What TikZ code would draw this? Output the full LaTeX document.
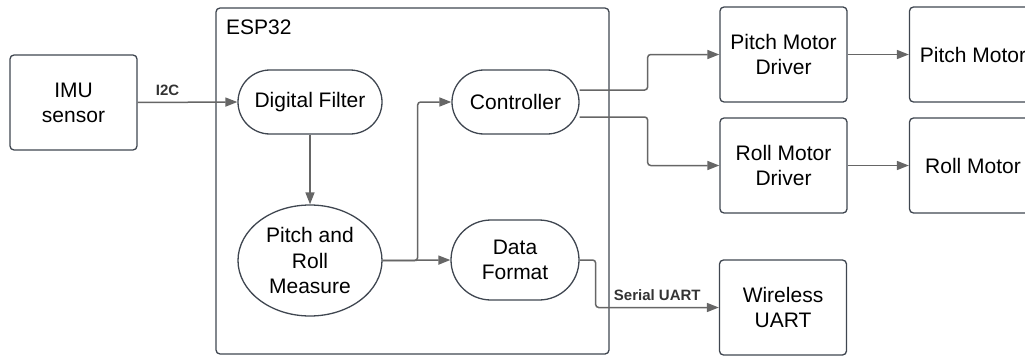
\documentclass[tikz,border=0pt]{standalone}
\usepackage{fontspec}
\setmainfont{Liberation Sans}
\usetikzlibrary{arrows.meta,shapes.geometric}
\definecolor{boxc}{HTML}{3F4650}
\definecolor{arrc}{HTML}{666666}
\tikzset{
  blk/.style={draw=boxc, line width=1.3pt, rounded corners=4pt, minimum width=127pt, minimum height=95pt, align=center, font=\fontsize{21}{25}\selectfont, inner sep=0pt},
  stad/.style={draw=boxc, line width=1.3pt, minimum height=64pt, rounded corners=32pt, align=center, font=\fontsize{21}{25}\selectfont, inner sep=0pt},
  arr/.style={draw=arrc, line width=1.5pt, rounded corners=3pt, -{Triangle[length=12pt,width=9pt]}},
  lbl/.style={font=\bfseries\fontsize{15}{18}\selectfont, text=black!80},
}
\begin{document}
\begin{tikzpicture}[x=1pt,y=-1pt]
\clip (0,0) rectangle (1025,356);
\useasboundingbox (0,0) rectangle (1025,356);
% ESP32 container
\node[draw=boxc, line width=1.3pt, rounded corners=4pt, minimum width=393pt, minimum height=346pt, inner sep=0pt] (esp) at (412.5,181) {};
\node[anchor=west, font=\fontsize{21}{24}\selectfont, inner sep=0pt] (esplbl) at (226,27) {ESP32};
% nodes
\node[blk] (imu) at (73.5,102.5) {IMU\\sensor};
\node[stad, minimum width=144pt] (filt) at (310,102) {Digital Filter};
\node[draw=boxc, line width=1.3pt, ellipse, minimum width=144pt, minimum height=111pt, inner sep=0pt, align=center, font=\fontsize{21}{25.5}\selectfont] (meas) at (310,260.5) {Pitch and\\Roll\\Measure};
\node[stad, minimum width=127pt] (ctrl) at (515.5,102) {Controller};
\node[stad, minimum width=128pt, minimum height=80pt, rounded corners=40pt] (fmt) at (515,260) {Data\\Format};
\node[blk] (pdrv) at (783.5,54.5) {Pitch Motor\\Driver};
\node[blk] (rdrv) at (783.5,165.5) {Roll Motor\\Driver};
\node[blk] (pmot) at (973,54.5) {Pitch Motor};
\node[blk] (rmot) at (973,165.5) {Roll Motor};
\node[blk] (wuart) at (783,307.5) {Wireless\\UART};
% connectors
\draw[arr] (imu.east) -- node[lbl, pos=0.3, above=3pt] {I2C} (filt.west);
\draw[arr] (filt.south) -- (meas.north);
\draw[arr] (meas.east) -- (fmt.west);
\draw[arr] (meas.east) -- ++(35,0) |- (ctrl.west);
\draw[arr] ([yshift=12pt]ctrl.east) -- ++(68,0) |- (pdrv.west);
\draw[arr] ([yshift=-15pt]ctrl.east) -- ++(68,0) |- (rdrv.west);
\draw[arr] (pdrv.east) -- (pmot.west);
\draw[arr] (rdrv.east) -- (rmot.west);
\draw[arr] (fmt.east) -- ++(16,0) |- node[lbl, pos=0.75, above=3pt] {Serial UART} (wuart.west);
\end{tikzpicture}
\end{document}
